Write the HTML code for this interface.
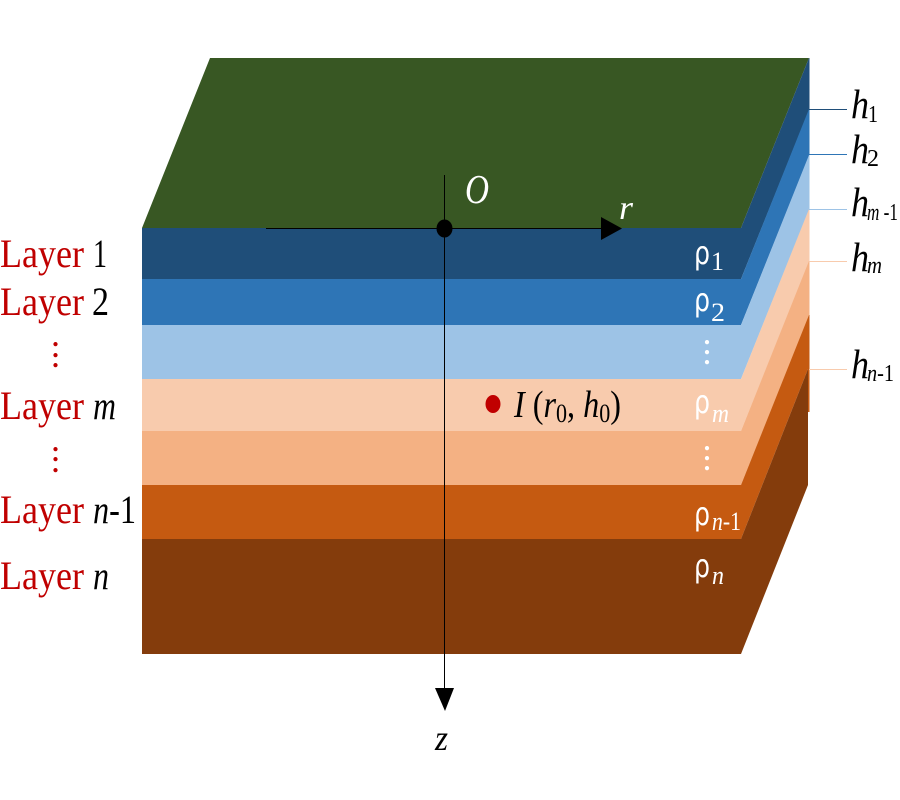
<!DOCTYPE html>
<html>
<head>
<meta charset="utf-8">
<style>
html,body{margin:0;padding:0;background:#fff;width:900px;height:800px;overflow:hidden}
svg{display:block}
text{font-family:"Liberation Serif","DejaVu Serif",serif}
.l{font-size:40px;fill:#C00000}
.k{font-size:40px;fill:#000}
.i{font-style:italic}
.w{fill:#fff}
.s{font-size:26px;fill:#fff}
.r{font-family:"DejaVu Sans",sans-serif;font-size:32px;fill:#fff}
.h{font-size:41px;font-style:italic;fill:#000}
.sb{font-size:24px;fill:#000}
.d{font-size:36px}
.c{shape-rendering:crispEdges}
</style>
</head>
<body>
<svg width="900" height="800" viewBox="0 0 900 800" xmlns="http://www.w3.org/2000/svg">
<polygon points="142,228 741,228 809,58 210,58" fill="#385723"/>
<polygon points="741,228 809,58 809.5,58 809.5,109 741,279" fill="#1F4E79"/>
<polygon points="741,279 809,109 809.5,109 809.5,155 741,325" fill="#2E75B6"/>
<polygon points="741,325 809,155 809.5,155 809.5,209 741,379" fill="#9DC3E6"/>
<polygon points="741,379 809,209 809.5,209 809.5,261 741,431" fill="#F8CBAD"/>
<polygon points="741,431 809,261 809.5,261 809.5,315 741,485" fill="#F4B183"/>
<polygon points="741,485 809,315 809.5,315 809.5,412 808,412 808,369 741,539" fill="#C55A11"/>
<polygon points="741,539 808,369 808,485 741,654" fill="#843C0C"/>
<rect x="142" y="228" width="599" height="51" fill="#1F4E79"/>
<rect x="142" y="279" width="599" height="46" fill="#2E75B6"/>
<rect x="142" y="325" width="599" height="54" fill="#9DC3E6"/>
<rect x="142" y="379" width="599" height="52" fill="#F8CBAD"/>
<rect x="142" y="431" width="599" height="54" fill="#F4B183"/>
<rect x="142" y="485" width="599" height="54" fill="#C55A11"/>
<rect x="142" y="539" width="599" height="115" fill="#843C0C"/>

<g class="c" stroke-width="1">
<line x1="809" y1="109.5" x2="847" y2="109.5" stroke="#1F4E79"/>
<line x1="809" y1="154.5" x2="847" y2="154.5" stroke="#2E75B6"/>
<line x1="809" y1="209.5" x2="847" y2="209.5" stroke="#9DC3E6"/>
<line x1="809" y1="261.5" x2="847" y2="261.5" stroke="#F8CBAD"/>
<line x1="809" y1="369.5" x2="847" y2="369.5" stroke="#F8CBAD"/>
<line x1="266" y1="228.5" x2="605" y2="228.5" stroke="#000"/>
<line x1="444.5" y1="175" x2="444.5" y2="692" stroke="#000"/>
</g>
<polygon points="601,217 601,240 622,228.5" fill="#000"/>
<polygon points="435,688 454,688 445,711" fill="#000"/>
<ellipse cx="444.5" cy="228.5" rx="8" ry="9" fill="#000"/>
<ellipse cx="493" cy="404" rx="7.5" ry="9" fill="#C00000"/>

<text class="l" x="0" y="267" textLength="84" lengthAdjust="spacingAndGlyphs">Layer</text>
<text class="k" x="93" y="267" textLength="14" lengthAdjust="spacingAndGlyphs">1</text>
<text class="l" x="0" y="315" textLength="84" lengthAdjust="spacingAndGlyphs">Layer</text>
<text class="k" x="92" y="315" textLength="17" lengthAdjust="spacingAndGlyphs">2</text>
<text class="l" x="0" y="419" textLength="84" lengthAdjust="spacingAndGlyphs">Layer</text>
<text class="k i" x="93" y="419" textLength="23" lengthAdjust="spacingAndGlyphs">m</text>
<text class="l" x="0" y="523" textLength="84" lengthAdjust="spacingAndGlyphs">Layer</text>
<text class="k" x="93" y="523" textLength="43" lengthAdjust="spacingAndGlyphs"><tspan class="i">n</tspan>-1</text>
<text class="l" x="0" y="589" textLength="84" lengthAdjust="spacingAndGlyphs">Layer</text>
<text class="k i" x="93" y="589" textLength="16" lengthAdjust="spacingAndGlyphs">n</text>

<g fill="#C00000" class="d" text-anchor="middle">
<text x="55.5" y="346">.</text>
<text x="55.5" y="357">.</text>
<text x="55.5" y="367">.</text>
<text x="55.5" y="451">.</text>
<text x="55.5" y="461">.</text>
<text x="55.5" y="472">.</text>
</g>
<g fill="#fff" class="d" text-anchor="middle">
<text x="707" y="344">.</text>
<text x="707" y="354">.</text>
<text x="707" y="364">.</text>
<text x="707" y="450">.</text>
<text x="707" y="460">.</text>
<text x="707" y="470">.</text>
</g>

<text class="i w" x="465" y="203" textLength="24" lengthAdjust="spacingAndGlyphs" style="font-size:41px">O</text>
<text class="i w" x="619" y="219" textLength="14" lengthAdjust="spacingAndGlyphs" style="font-size:34px">r</text>
<text class="i" x="435" y="750" textLength="13" lengthAdjust="spacingAndGlyphs" style="font-size:36px">z</text>

<text x="514" y="417" style="font-size:38px" textLength="107" lengthAdjust="spacingAndGlyphs"><tspan class="i">I</tspan> (<tspan class="i">r</tspan><tspan font-size="26" dy="5">0</tspan><tspan dy="-5">, </tspan><tspan class="i">h</tspan><tspan font-size="26" dy="5">0</tspan><tspan dy="-5">)</tspan></text>

<text x="694" y="264" class="r" textLength="16" lengthAdjust="spacingAndGlyphs">ρ</text>
<text x="711" y="270" class="s" textLength="13" lengthAdjust="spacingAndGlyphs">1</text>
<text x="694" y="311" class="r" textLength="16" lengthAdjust="spacingAndGlyphs">ρ</text>
<text x="711" y="321" class="s" textLength="14" lengthAdjust="spacingAndGlyphs">2</text>
<text x="694" y="413" class="r" textLength="16" lengthAdjust="spacingAndGlyphs">ρ</text>
<text x="712" y="422" class="s i" textLength="17" lengthAdjust="spacingAndGlyphs">m</text>
<text x="694" y="525" class="r" textLength="16" lengthAdjust="spacingAndGlyphs">ρ</text>
<text x="712" y="530" class="s" textLength="29" lengthAdjust="spacingAndGlyphs"><tspan class="i">n</tspan>-1</text>
<text x="694" y="577" class="r" textLength="16" lengthAdjust="spacingAndGlyphs">ρ</text>
<text x="712" y="584" class="s i" textLength="12" lengthAdjust="spacingAndGlyphs">n</text>

<text class="h" x="851" y="118" textLength="18" lengthAdjust="spacingAndGlyphs">h</text>
<text class="sb" x="868" y="122" textLength="10" lengthAdjust="spacingAndGlyphs">1</text>
<text class="h" x="851" y="163" textLength="18" lengthAdjust="spacingAndGlyphs">h</text>
<text class="sb" x="867" y="166" textLength="12" lengthAdjust="spacingAndGlyphs">2</text>
<text class="h" x="851" y="216" textLength="18" lengthAdjust="spacingAndGlyphs">h</text>
<text class="sb" x="867" y="220" textLength="31" lengthAdjust="spacingAndGlyphs"><tspan font-style="italic">m</tspan> -1</text>
<text class="h" x="851" y="271" textLength="18" lengthAdjust="spacingAndGlyphs">h</text>
<text class="sb" x="867" y="273" textLength="15" lengthAdjust="spacingAndGlyphs" font-style="italic">m</text>
<text class="h" x="851" y="378" textLength="18" lengthAdjust="spacingAndGlyphs">h</text>
<text class="sb" x="867" y="381" textLength="27" lengthAdjust="spacingAndGlyphs"><tspan font-style="italic">n</tspan>-1</text>
</svg>
</body>
</html>
